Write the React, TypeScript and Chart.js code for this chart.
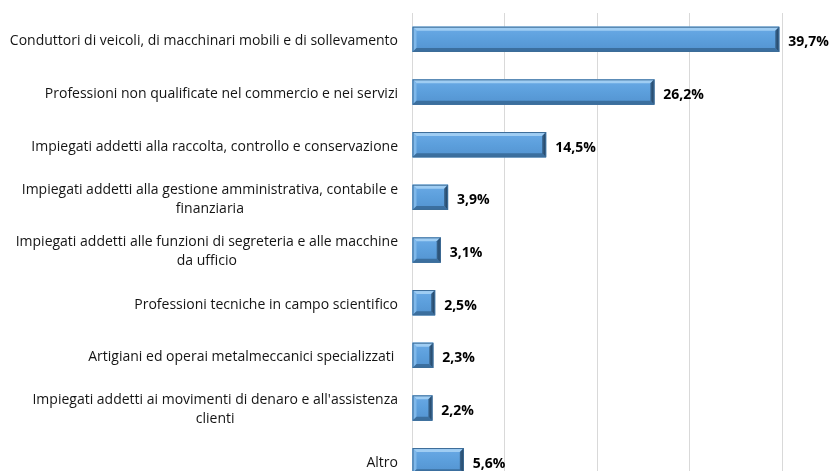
import React, { useEffect, useRef } from "react";
import { Chart, registerables } from "chart.js";

Chart.register(...registerables);

const categories: string[][] = [
  ["Conduttori di veicoli, di macchinari mobili e di sollevamento"],
  ["Professioni non qualificate nel commercio e nei servizi"],
  ["Impiegati addetti alla raccolta, controllo e conservazione"],
  ["Impiegati addetti alla gestione amministrativa, contabile e", "finanziaria"],
  ["Impiegati addetti alle funzioni di segreteria e alle macchine", "da ufficio"],
  ["Professioni tecniche in campo scientifico"],
  ["Artigiani ed operai metalmeccanici specializzati "],
  ["Impiegati addetti ai movimenti di denaro e all'assistenza", "clienti"],
  ["Altro"],
];
const values: number[] = [39.7, 26.2, 14.5, 3.9, 3.1, 2.5, 2.3, 2.2, 5.6];
const valueLabels: string[] = ["39,7%", "26,2%", "14,5%", "3,9%", "3,1%", "2,5%", "2,3%", "2,2%", "5,6%"];
const xMax = 40;
const xStep = 10;

const FONT = "'Open Sans', 'Noto Sans', sans-serif";

const bevelPlugin = {
  id: "bevel",
  afterDatasetsDraw(chart: any) {
    const ctx = chart.ctx;
    const meta = chart.getDatasetMeta(0);
    meta.data.forEach((bar: any) => {
      const p = bar.getProps(["x", "y", "base", "height"], true);
      const l = Math.min(p.base, p.x);
      const r = Math.max(p.base, p.x);
      const t = p.y - p.height / 2;
      const b = p.y + p.height / 2;
      const bv = Math.min(4, (r - l) / 3);
      ctx.save();
      const g = ctx.createLinearGradient(0, t, 0, b);
      g.addColorStop(0, "#6aaae6");
      g.addColorStop(0.5, "#5c9fdc");
      g.addColorStop(1, "#5393d0");
      ctx.fillStyle = g;
      ctx.fillRect(l, t, r - l, b - t);
      ctx.fillStyle = "#9fcdf3";
      ctx.beginPath();
      ctx.moveTo(l, t);
      ctx.lineTo(r, t);
      ctx.lineTo(r - bv, t + bv);
      ctx.lineTo(l + bv, t + bv);
      ctx.closePath();
      ctx.fill();
      ctx.fillStyle = "#7fb8ea";
      ctx.beginPath();
      ctx.moveTo(l, t);
      ctx.lineTo(l + bv, t + bv);
      ctx.lineTo(l + bv, b - bv);
      ctx.lineTo(l, b);
      ctx.closePath();
      ctx.fill();
      ctx.fillStyle = "#3b6f9f";
      ctx.beginPath();
      ctx.moveTo(l, b);
      ctx.lineTo(l + bv, b - bv);
      ctx.lineTo(r - bv, b - bv);
      ctx.lineTo(r, b);
      ctx.closePath();
      ctx.fill();
      const gr = ctx.createLinearGradient(r - bv, 0, r, 0);
      gr.addColorStop(0, "#3a6892");
      gr.addColorStop(1, "#1f3c5a");
      ctx.fillStyle = gr;
      ctx.beginPath();
      ctx.moveTo(r, t);
      ctx.lineTo(r, b);
      ctx.lineTo(r - bv, b - bv);
      ctx.lineTo(r - bv, t + bv);
      ctx.closePath();
      ctx.fill();
      ctx.strokeStyle = "#3d6d98";
      ctx.lineWidth = 1;
      ctx.strokeRect(l + 0.5, t + 0.5, r - l - 1, b - t - 1);
      ctx.restore();
    });
  },
};

const labelsPlugin = {
  id: "customLabels",
  afterDraw(chart: any) {
    const ctx = chart.ctx;
    const meta = chart.getDatasetMeta(0);
    const yScale = chart.scales.y;
    ctx.save();
    ctx.font = `14px ${FONT}`;
    ctx.fillStyle = "#141414";
    ctx.textBaseline = "middle";
    ctx.textAlign = "center";
    const rightEdge = chart.chartArea.left - 14;
    const lineH = 19;
    categories.forEach((lines, i) => {
      const cy = yScale.getPixelForTick(i) + 2;
      const w = Math.max(...lines.map((s) => ctx.measureText(s).width));
      const cx = rightEdge - w / 2;
      const y0 = cy - ((lines.length - 1) * lineH) / 2;
      lines.forEach((s, k) => ctx.fillText(s, cx, y0 + k * lineH));
    });
    ctx.font = `bold 14px ${FONT}`;
    ctx.fillStyle = "#000000";
    ctx.textAlign = "left";
    meta.data.forEach((bar: any, i: number) => {
      const p = bar.getProps(["x", "y"], true);
      ctx.fillText(valueLabels[i], p.x + 9, p.y + 3);
    });
    ctx.restore();
  },
};

export default function App() {
  const ref = useRef<HTMLCanvasElement | null>(null);
  useEffect(() => {
    if (!ref.current) return;
    const chart = new Chart(ref.current, {
      type: "bar",
      data: {
        labels: categories.map((c) => c.join(" ")),
        datasets: [
          {
            data: values,
            backgroundColor: "#5c9fdc",
            borderWidth: 0,
            barPercentage: 0.48,
            categoryPercentage: 1,
          },
        ],
      },
      options: {
        indexAxis: "y",
        animation: false,
        responsive: false,
        maintainAspectRatio: false,
        layout: { padding: { left: 412, right: 50, top: 13, bottom: 0 } },
        plugins: {
          legend: { display: false },
          tooltip: { enabled: false },
        },
        scales: {
          x: {
            min: 0,
            max: xMax,
            ticks: { display: false, stepSize: xStep },
            grid: { color: "#d9d9d9", lineWidth: 1, drawTicks: false },
            border: { display: false },
          },
          y: {
            display: false,
          },
        },
      },
      plugins: [bevelPlugin, labelsPlugin],
    });
    return () => chart.destroy();
  }, []);
  return (
    <div style={{ position: "absolute", left: 0, top: 0, width: 832, height: 487 }}>
      <canvas ref={ref} width={832} height={487} style={{ display: "block" }} />
    </div>
  );
}
